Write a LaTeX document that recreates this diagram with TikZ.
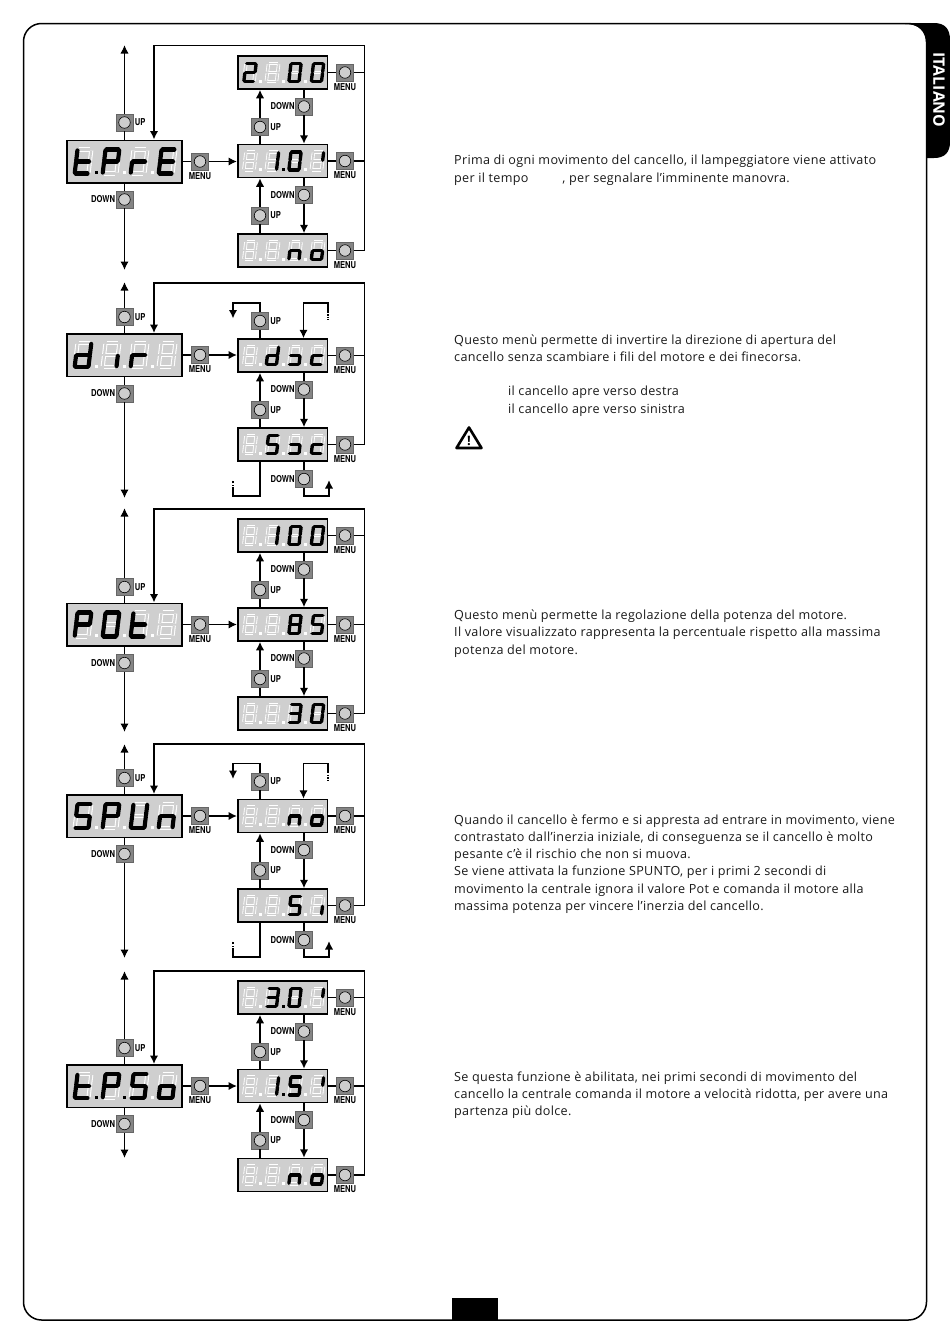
\documentclass[tikz,border=0pt]{standalone}
\usepackage{fontspec}
\setmainfont[LetterSpace=2.5]{Open Sans}
\newfontfamily\tabfont{Open Sans}
\newfontfamily\heros{TeX Gyre Heros}
\usetikzlibrary{arrows.meta,calc}
\definecolor{DISP}{HTML}{CFCFCF}
\definecolor{BTN}{HTML}{858585}
\definecolor{LED}{HTML}{CDCDCD}
\definecolor{W}{HTML}{FFFFFF}
\definecolor{K}{HTML}{000000}
% seven-segment glyphs
\def\GT{f,g,e,d}\def\GP{a,b,f,g,e}\def\GR{e,g}\def\GE{a,f,g,e,d}
\def\GD{b,c,d,e,g}\def\GI{c}\def\GB{}\def\GC{g,e,d}\def\GS{a,f,g,c,d}\def\GSs{g,c,d}
\def\GN{e,g,c}\def\GO{e,g,c,d}\def\GZ{a,b,c,d,e,f}\def\GOne{b,c}\def\GV{b}
\def\GTwo{a,b,g,e,d}\def\GThree{a,b,g,c,d}\def\GEight{a,b,c,d,e,f,g}\def\GU{b,c,d,e,f}
\def\sega{\draw[\segsty] (-\dw+\dg,-\dh) -- (\dw-\dg,-\dh);}
\def\segb{\draw[\segsty] (\dw,-\dh+\dg) -- (\dw,-\dg);}
\def\segc{\draw[\segsty] (\dw,\dg) -- (\dw,\dh-\dg);}
\def\segd{\draw[\segsty] (-\dw+\dg,\dh) -- (\dw-\dg,\dh);}
\def\sege{\draw[\segsty] (-\dw,\dg) -- (-\dw,\dh-\dg);}
\def\segf{\draw[\segsty] (-\dw,-\dh+\dg) -- (-\dw,-\dg);}
\def\segg{\draw[\segsty] (-\dw+\dg,0) -- (\dw-\dg,0);}
\newcommand\digit[3]{%
  \begin{scope}[shift={(#1,#2)},xslant=.12]
  \def\segsty{segwhite}\foreach \s in {a,b,c,d,e,f,g}{\csname seg\s\endcsname}
  \def\segsty{seggrey}\foreach \s in {a,b,c,d,e,f,g}{\csname seg\s\endcsname}
  \def\segsty{seglit}\edef\dlist{#3}\foreach \s in \dlist{\csname seg\s\endcsname}
  \end{scope}}
\newcommand\dpnt[3]{\fill[#3] (#1-1.5,#2-1.5) rectangle (#1+1.5,#2+1.5);}
\newcommand\bigdisp[9]{%
  \node[bigbox] (#1) at (124.5,#2) {};
  \begingroup\def\dw{6.9}\def\dh{12}\def\dg{1}\def\lw{4.2}
  \digit{83}{#2}{#3}\digit{111}{#2}{#4}\digit{139}{#2}{#5}\digit{167}{#2}{#6}
  \dpnt{96.5}{#2+11}{#7}\dpnt{124.5}{#2+11}{#8}\dpnt{152.5}{#2+11}{#9}
  \endgroup}
\newcommand\smalldisp[9]{%
  \node[smallbox] (#1) at (282.5,#2) {};
  \begingroup\def\dw{5.1}\def\dh{9}\def\dg{.8}\def\lw{3.4}
  \digit{250}{#2}{#3}\digit{272.5}{#2}{#4}\digit{295}{#2}{#5}\digit{317.5}{#2}{#6}
  \dpnt{260.5}{#2+8.5}{#7}\dpnt{283}{#2+8.5}{#8}\dpnt{305.5}{#2+8.5}{#9}
  \endgroup}
\newcommand\btnode[3]{\node[btn] (#1) at (#2,#3) {}; \node[led] (#1led) at (#1.center) {};}
\newcommand\labUP[1]{\node[blab,anchor=west] (#1lab) at ($(#1.east)+(1.5,0)$) {\scalebox{.8}[1]{UP}};}
\newcommand\labDN[1]{\node[blab,anchor=east] (#1lab) at ($(#1.west)+(-0.5,0)$) {\scalebox{.8}[1]{DOWN}};}
\newcommand\labMN[1]{\node[blab] (#1lab) at ($(#1.center)+(0,14.5)$) {\scalebox{.8}[1]{MENU}};}
% left column: prefix, cy, up y, down y, top tip y, bottom tip y
\newcommand\leftpart[6]{%
  \btnode{#1U}{124.5}{#3}\labUP{#1U}
  \btnode{#1D}{124.5}{#4}\labDN{#1D}
  \btnode{#1M}{200}{#2}\labMN{#1M}
  \coordinate (#1top) at (124.5,#5);
  \coordinate (#1bot) at (124.5,#6);
  \draw[conn] (#1L.north -| #1U.center) -- (#1U.south);
  \draw[arr] (#1U.north) -- (#1top);
  \draw[conn] (#1L.south -| #1D.center) -- (#1D.north);
  \draw[arr] (#1D.south) -- (#1bot);
  \draw[conn] (#1L.east |- #1M.center) -- (#1M.west);
}
\newcommand\menubtn[2]{\btnode{#1m}{345}{#2}\labMN{#1m}
  \draw[conn] (#1.east |- #1m.center) -- (#1m.west);}
\newcommand\busline[2]{\draw[conn] (#1m.east) -- (#1m.east -| #2bus);}
\newcommand\feedback[3]{% prefix, last row, loop y
  \coordinate (#1bus) at (364.5,#3);
  \coordinate (#1fb) at (154,#3);
  \draw[arr] (#2m.east) -| (#1bus) -- (#1fb) -- (#1fb |- #1L.north);}
\newcommand\updown[4]{% prefix tag, upper row node, lower row node, upper row cy
  \btnode{#1D}{304}{#4+34}\labDN{#1D}
  \btnode{#1U}{260}{#4+54.5}\labUP{#1U}
  \draw[conn] (#2.south -| #1D.center) -- (#1D.north);
  \draw[arr] (#1D.south) -- (#3.north -| #1D.center);
  \draw[conn] (#3.north -| #1U.center) -- (#1U.south);
  \draw[arr] (#1U.north) -- (#2.south -| #1U.center);
}
% two-state wrap-around connectors: prefix, r1 cy, r2 cy
\newcommand\wraps[3]{%
  \btnode{#1wU}{260}{#2-34.5}\labUP{#1wU}
  \btnode{#1wD}{304}{#3+34.5}\labDN{#1wD}
  \coordinate (#1c1) at (233,#2-52.5);
  \coordinate (#1c2) at (233,#2-37);
  \coordinate (#1c3) at (328,#2-44);
  \coordinate (#1c4) at (328,#2-36);
  \coordinate (#1c5) at (303.5,#2-52.5);
  \coordinate (#1c6) at (233,#3+44);
  \coordinate (#1c7) at (233,#3+36);
  \coordinate (#1c8) at (260,#3+51.5);
  \coordinate (#1c9) at (329,#3+51.5);
  \coordinate (#1c10) at (329,#3+35.5);
  \draw[conn] (#1R1.north -| #1wU.center) -- (#1wU.south);
  \draw[arr] (#1wU.north) |- (#1c1) -- (#1c2);
  \draw[dashy] (#1c3) -- (#1c4);
  \draw[arr] (#1c3) |- (#1c5) -- (#1R1.north -| #1c5);
  \draw[conn] (#1R2.south -| #1wD.center) -- (#1wD.north);
  \draw[arr] (#1wD.south) |- (#1c9) -- (#1c10);
  \draw[conn] (#1R2.south -| #1wU.center) |- (#1c6 |- #1c8) -- (#1c6);
  \draw[dashy] (#1c6) -- (#1c7);
}
\newcommand\tline[3]{\node[txt] (t#1) at (#2,#1+5) {#3};}
\begin{document}
\begin{tikzpicture}[x=1pt,y=-1pt,
  bigbox/.style={draw=black,line width=1.5pt,fill=DISP,minimum width=115pt,minimum height=42.5pt,inner sep=0pt},
  smallbox/.style={draw=black,line width=1.5pt,fill=DISP,minimum width=89.5pt,minimum height=33pt,inner sep=0pt},
  btn/.style={draw=black!60,line width=.5pt,fill=BTN,minimum width=17pt,minimum height=17pt,inner sep=0pt},
  led/.style={circle,draw=black,line width=.6pt,fill=LED,minimum size=11.5pt,inner sep=0pt},
  blab/.style={font=\heros\bfseries\fontsize{9.5}{9.5}\selectfont,inner sep=0pt,text=black},
  conn/.style={draw=black,line width=1.7pt},
  arr/.style={conn,-{Latex[length=8.5pt,width=8.5pt]}},
  dashy/.style={draw=black,line width=1.7pt,dash pattern=on 1.4pt off 1.2pt},
  segwhite/.style={draw=white,line width=\lw pt},
  seggrey/.style={draw=DISP,line width=.5*\lw pt},
  seglit/.style={draw=black,line width=\lw pt,line cap=round},
  txt/.style={anchor=base west,inner sep=0pt,font=\fontsize{12.6}{14}\selectfont,text=black!90},
]
\useasboundingbox (0,0) rectangle (950,1344);
\fill[white] (0,0) rectangle (950,1344);
% page frame
\draw[line width=1.5pt,rounded corners=18pt] (23.5,23.5) rectangle (926.5,1320);
\fill[black] (905,23) -- (934,23) .. controls (945,23) and (950,29) .. (950,40) -- (950,142) .. controls (950,152) and (945,158) .. (934,158) -- (926,158) -- (926,42) .. controls (926,30) and (918,24) .. (905,24) -- cycle;
\node[rotate=-90,text=white,inner sep=0pt,font=\tabfont\fontsize{15.8}{16}\selectfont\bfseries] (tab) at (939,90) {ITALIANO};
\fill[black] (452,1298) rectangle (497.5,1320);
%% Block 1
\bigdisp{aL}{161.5}{\GT}{\GP}{\GR}{\GE}{K}{W}{W}
\smalldisp{aR1}{72.5}{\GTwo}{\GB}{\GZ}{\GZ}{W}{W}{W}
\smalldisp{aR2}{161}{\GB}{\GOne}{\GZ}{\GV}{W}{K}{W}
\smalldisp{aR3}{250.5}{\GB}{\GB}{\GN}{\GO}{W}{W}{W}
\leftpart{a}{161.5}{122.5}{199.5}{45}{270}
\draw[arr] (aM.east) -- (aR2.west |- aM.center);
\menubtn{aR1}{72.5}\menubtn{aR2}{161}\menubtn{aR3}{250.5}
\feedback{a}{aR3}{45.5}\busline{aR1}{a}\busline{aR2}{a}
\updown{a1}{aR1}{aR2}{72.5}\updown{a2}{aR2}{aR3}{161}
%% Block 2
\bigdisp{bL}{355}{\GD}{\GI}{\GR}{\GB}{W}{W}{W}
\smalldisp{bR1}{355.5}{\GB}{\GD}{\GSs}{\GC}{W}{W}{W}
\smalldisp{bR2}{444.5}{\GB}{\GS}{\GSs}{\GC}{W}{W}{W}
\leftpart{b}{355}{317}{393.5}{282}{498}
\draw[arr] (bM.east) -- (bR1.west |- bM.center);
\menubtn{bR1}{355.5}\menubtn{bR2}{444.5}
\feedback{b}{bR2}{283}\busline{bR1}{b}
\updown{b1}{bR1}{bR2}{355.5}
\wraps{b}{355.5}{444.5}
%% Block 3
\bigdisp{cL}{624.5}{\GP}{\GZ}{\GT}{\GB}{W}{W}{W}
\smalldisp{cR1}{535.5}{\GB}{\GOne}{\GZ}{\GZ}{W}{W}{W}
\smalldisp{cR2}{624.5}{\GB}{\GB}{\GEight}{\GS}{W}{W}{W}
\smalldisp{cR3}{713.5}{\GB}{\GB}{\GThree}{\GZ}{W}{W}{W}
\leftpart{c}{624.5}{587}{663}{508}{732}
\draw[arr] (cM.east) -- (cR2.west |- cM.center);
\menubtn{cR1}{535.5}\menubtn{cR2}{624.5}\menubtn{cR3}{713.5}
\feedback{c}{cR3}{509}\busline{cR1}{c}\busline{cR2}{c}
\updown{c1}{cR1}{cR2}{535.5}\updown{c2}{cR2}{cR3}{624.5}
%% Block 4
\bigdisp{dL}{816}{\GS}{\GP}{\GU}{\GN}{W}{W}{W}
\smalldisp{dR1}{816}{\GB}{\GB}{\GN}{\GO}{W}{W}{W}
\smalldisp{dR2}{905.5}{\GB}{\GB}{\GS}{\GI}{W}{W}{W}
\leftpart{d}{816}{778}{854}{744}{958}
\draw[arr] (dM.east) -- (dR1.west |- dM.center);
\menubtn{dR1}{816}\menubtn{dR2}{905.5}
\feedback{d}{dR2}{744}\busline{dR1}{d}
\updown{d1}{dR1}{dR2}{816}
\wraps{d}{816}{905.5}
%% Block 5
\bigdisp{eL}{1086}{\GT}{\GP}{\GS}{\GO}{K}{K}{W}
\smalldisp{eR1}{997.5}{\GB}{\GThree}{\GZ}{\GV}{W}{K}{W}
\smalldisp{eR2}{1086}{\GB}{\GOne}{\GS}{\GV}{W}{K}{W}
\smalldisp{eR3}{1175}{\GB}{\GB}{\GN}{\GO}{W}{W}{W}
\leftpart{e}{1086}{1048}{1124}{971}{1158}
\draw[arr] (eM.east) -- (eR2.west |- eM.center);
\menubtn{eR1}{997.5}\menubtn{eR2}{1086}\menubtn{eR3}{1175}
\feedback{e}{eR3}{971}\busline{eR1}{e}\busline{eR2}{e}
\updown{e1}{eR1}{eR2}{997.5}\updown{e2}{eR2}{eR3}{1086}
%% Texts
\tline{159}{454}{Prima di ogni movimento del cancello, il lampeggiatore viene attivato}
\tline{177}{454}{per il tempo\hspace{34pt}, per segnalare l’imminente manovra.}
\tline{339}{454}{Questo menù permette di invertire la direzione di apertura del}
\tline{356}{454}{cancello senza scambiare i fili del motore e dei finecorsa.}
\tline{390}{508}{il cancello apre verso destra}
\tline{408}{508}{il cancello apre verso sinistra}
\tline{614}{454}{Questo menù permette la regolazione della potenza del motore.}
\tline{631}{454}{Il valore visualizzato rappresenta la percentuale rispetto alla massima}
\tline{649}{454}{potenza del motore.}
\tline{819}{454}{Quando il cancello è fermo e si appresta ad entrare in movimento, viene}
\tline{836}{454}{contrastato dall'inerzia iniziale, di conseguenza se il cancello è molto}
\tline{853}{454}{pesante c'è il rischio che non si muova.}
\tline{870}{454}{Se viene attivata la funzione SPUNTO, per i primi 2 secondi di}
\tline{888}{454}{movimento la centrale ignora il valore Pot e comanda il motore alla}
\tline{905}{454}{massima potenza per vincere l’inerzia del cancello.}
\tline{1076}{454}{Se questa funzione è abilitata, nei primi secondi di movimento del}
\tline{1093}{454}{cancello la centrale comanda il motore a velocità ridotta, per avere una}
\tline{1110}{454}{partenza più dolce.}
% warning sign
\draw[line width=2.6pt,line join=round] (469,427.5) -- (481.5,448) -- (456.5,448) -- cycle;
\node[inner sep=0pt,font=\fontsize{13}{13}\selectfont\bfseries] (warn) at (469,441) {!};
\end{tikzpicture}
\end{document}
